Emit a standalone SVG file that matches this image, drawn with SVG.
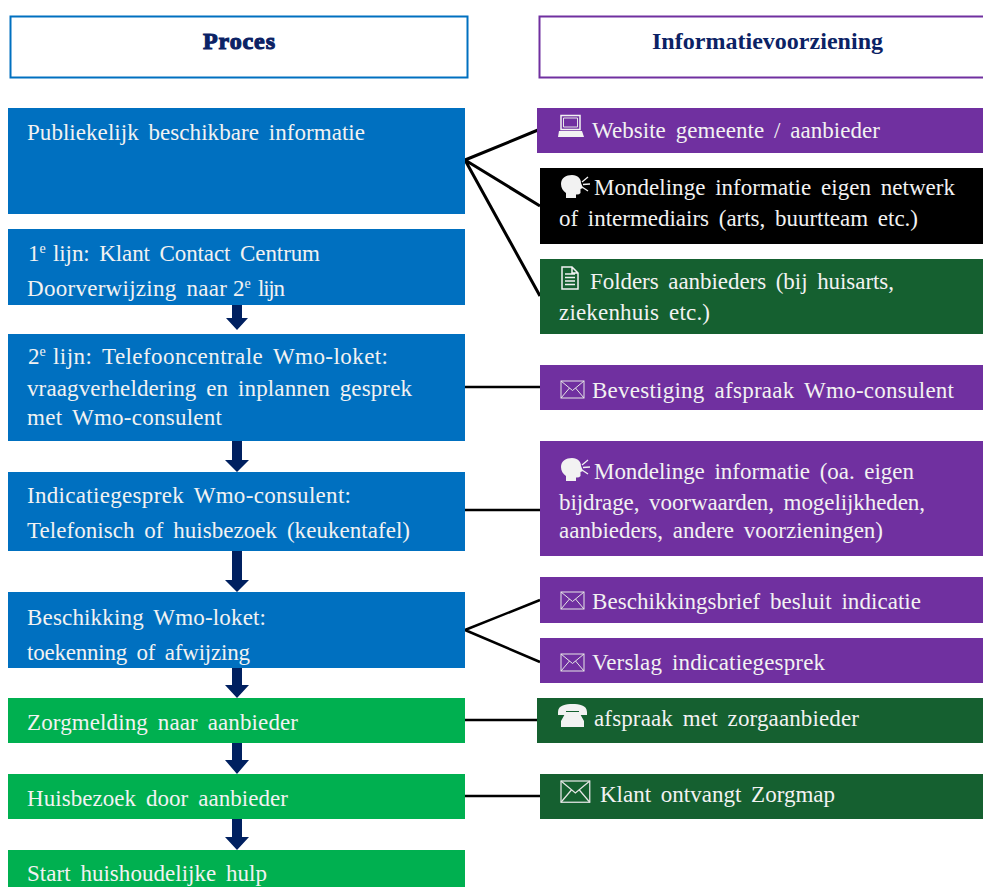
<svg xmlns="http://www.w3.org/2000/svg" width="983" height="887" viewBox="0 0 983 887">
<style>
text{font-family:"Liberation Serif","Times New Roman",serif;font-size:23px;fill:#f2f2f2;word-spacing:4px}
.h{font-weight:bold;fill:#0b2265;font-size:24px;word-spacing:0}
.pr{stroke:#0b2265;stroke-width:1.1}
.sup{font-size:14px;word-spacing:0}
.blue{fill:#0070c0}.green{fill:#00b050}.purple{fill:#7030a0}.dark{fill:#156030}.black{fill:#000}
.ln{stroke:#000;stroke-width:2.5;fill:none}
.fan{stroke:#000;stroke-width:3;fill:none}
.arrow{fill:#002060}
.ic{fill:#f2f2f2}
.ico{fill:none;stroke:#e6e6e6;stroke-width:1}
.ico2{fill:none;stroke:#f2f2f2;stroke-width:1.500}
</style>
<defs>
<g id="mail"><rect x="0" y="0" width="23" height="17" class="ico"/><path d="M0 0L11.5 9.5L23 0M0 17L8.500 7M23 17L14.500 7" class="ico"/></g>
<g id="speech"><path class="ic" d="M0 8C0 2 5-1 11-1C17-1 20 3 20 7L22 12L19.500 13L19.500 17Q18 19 15 18.500L15 22L5 22L5 17C2 15 0 12 0 8Z"/><path d="M21 6L27 1M22 8.500L29 8M21 11L27 15" stroke="#f2f2f2" stroke-width="1.300" fill="none"/></g>
</defs>
<g id="connectors">
<path class="fan" d="M465 160L538 130M465 160L540 206M465 160L540 296"/>
<path class="ln" d="M465 387H540M465 510H540M465 630L540 600M465 630L540 662M465 720H537M465 796H540"/>
<g class="arrow">
<path d="M232 305h10v13h6l-11 12l-11-12h6z"/>
<path d="M232 441h10v19h7l-12 12l-12-12h7z"/>
<path d="M232 551h10v29h7l-12 12l-12-12h7z"/>
<path d="M232 668h10v17h7l-12 13l-12-13h7z"/>
<path d="M232 743h10v17h7l-12 14l-12-14h7z"/>
<path d="M232 819h10v18h7l-12 13l-12-13h7z"/>
</g>
</g>
<g id="head-proces"><rect x="10.500" y="16.500" width="457" height="61" fill="#fff" stroke="#0070c0" stroke-width="2"/><text class="h pr" x="203" y="49" textLength="72">Proces</text></g>
<g id="head-info"><rect x="539.500" y="16.500" width="445" height="61" fill="#fff" stroke="#7030a0" stroke-width="2"/><text class="h" x="652" y="49" textLength="231">Informatievoorziening</text></g>
<g id="p1"><rect class="blue" x="8" y="108" width="457" height="106"/><text x="27" y="140" textLength="338">Publiekelijk  beschikbare informatie</text></g>
<g id="p2"><rect class="blue" x="8" y="229" width="457" height="76"/><text x="28" y="261">1<tspan class="sup" dy="-8">e</tspan><tspan dy="8" x="53" textLength="267">lijn:  Klant  Contact Centrum</tspan></text><text x="27" y="296"><tspan textLength="200">Doorverwijzing  naar</tspan><tspan x="233">2</tspan><tspan class="sup" dy="-8">e</tspan><tspan dy="8" x="258" textLength="27">lijn</tspan></text></g>
<g id="p3"><rect class="blue" x="8" y="334" width="457" height="107"/><text x="28" y="364">2<tspan class="sup" dy="-8">e</tspan><tspan dy="8" x="53" textLength="335">lijn:  Telefooncentrale Wmo-loket:</tspan></text><text x="27" y="396" textLength="385">vraagverheldering  en inplannen  gesprek</text><text x="27" y="425" textLength="195">met Wmo-consulent</text></g>
<g id="p4"><rect class="blue" x="8" y="472" width="457" height="79"/><text x="27" y="503" textLength="324">Indicatiegesprek  Wmo-consulent:</text><text x="27" y="538" textLength="383">Telefonisch of huisbezoek (keukentafel)</text></g>
<g id="p5"><rect class="blue" x="8" y="592" width="457" height="76"/><text x="27" y="625" textLength="239">Beschikking  Wmo-loket:</text><text x="27" y="660" textLength="223">toekenning  of afwijzing</text></g>
<g id="p6"><rect class="green" x="8" y="698" width="457" height="45"/><text x="27" y="730" textLength="271">Zorgmelding  naar aanbieder</text></g>
<g id="p7"><rect class="green" x="8" y="774" width="457" height="45"/><text x="27" y="806" textLength="261">Huisbezoek door aanbieder</text></g>
<g id="p8"><rect class="green" x="8" y="850" width="457" height="37"/><text x="27" y="881" textLength="240">Start huishoudelijke  hulp</text></g>
<g id="i1"><rect class="purple" x="537" y="108" width="446" height="45"/><path class="ico2" d="M561 115.500h19v14h-19z"/><path class="ico" d="M563.500 118h14v9h-14z"/><path class="ic" d="M559 131h23l2 6h-26z"/><text x="592" y="138" textLength="288">Website gemeente  / aanbieder</text></g>
<g id="i2"><rect class="black" x="540" y="168" width="443" height="76"/><use href="#speech" transform="translate(561 176)"/><text x="594" y="195" textLength="361">Mondelinge  informatie  eigen netwerk</text><text x="559" y="226" textLength="359">of intermediairs  (arts, buurtteam etc.)</text></g>
<g id="i3"><rect class="dark" x="540" y="259" width="443" height="75"/><path class="ico2" d="M562 267h10l6 6v16h-16zM572 267v6h6M565 274h10M565 277.500h10M565 281h10M565 284.500h10"/><text x="590" y="289" textLength="304">Folders aanbieders (bij huisarts,</text><text x="559" y="320" textLength="151">ziekenhuis  etc.)</text></g>
<g id="i4"><rect class="purple" x="540" y="365" width="443" height="45"/><use href="#mail" transform="translate(561 381)"/><text x="592" y="398" textLength="362">Bevestiging  afspraak Wmo-consulent</text></g>
<g id="i5"><rect class="purple" x="540" y="441" width="443" height="115"/><use href="#speech" transform="translate(561 459)"/><text x="594" y="479" textLength="320">Mondelinge  informatie  (oa. eigen</text><text x="559" y="510" textLength="366">bijdrage, voorwaarden, mogelijkheden,</text><text x="559" y="538" textLength="324">aanbieders,  andere voorzieningen)</text></g>
<g id="i6"><rect class="purple" x="540" y="577" width="443" height="46"/><use href="#mail" transform="translate(561 592)"/><text x="592" y="609" textLength="329">Beschikkingsbrief  besluit indicatie</text></g>
<g id="i7"><rect class="purple" x="540" y="638" width="443" height="45"/><use href="#mail" transform="translate(561 654)"/><text x="592" y="670" textLength="233">Verslag  indicatiegesprek</text></g>
<g id="i8"><rect class="dark" x="537" y="698" width="446" height="45"/><path class="ic" d="M558 712c0-7 8-8 14.500-8s14.500 1 14.500 8v3h-8v-4h-13v4h-8zM566 712h13l5 9v6h-23v-6z"/><text x="594" y="726" textLength="265">afspraak met zorgaanbieder</text></g>
<g id="i9"><rect class="dark" x="540" y="774" width="443" height="45"/><use href="#mail" transform="translate(561 781) scale(1.250)"/><text x="600" y="802" textLength="235">Klant  ontvangt Zorgmap</text></g>
</svg>
